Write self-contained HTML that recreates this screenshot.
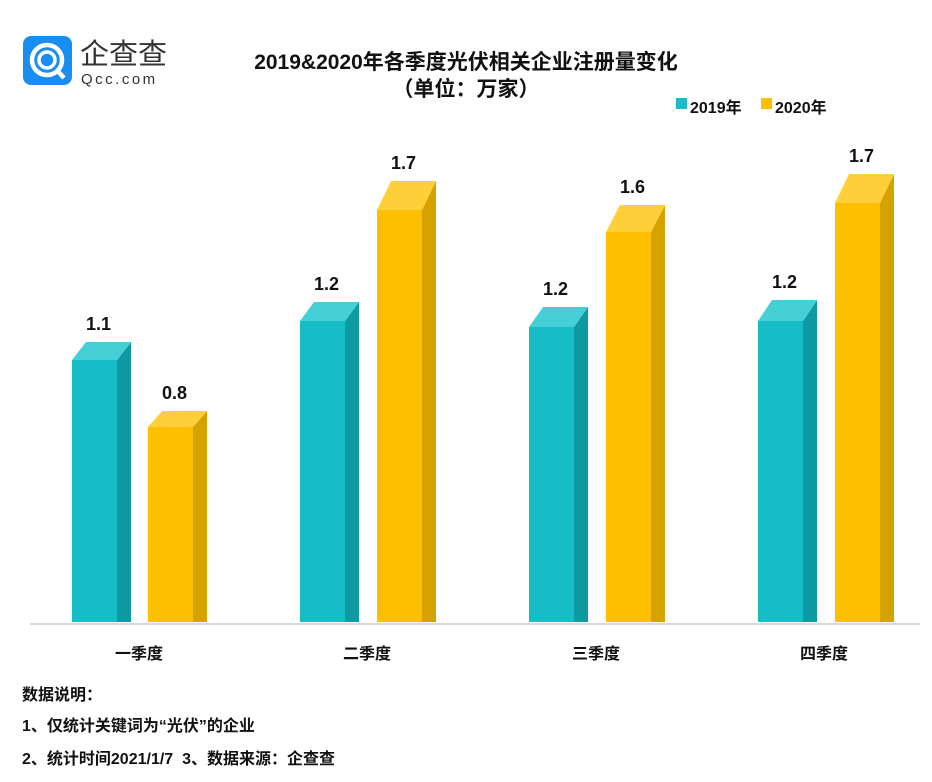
<!DOCTYPE html><html><head><meta charset="utf-8"><style>
body{margin:0;width:932px;height:782px;background:#fff;font-family:"Liberation Sans","Noto Sans CJK SC",sans-serif;overflow:hidden;position:relative}
.t{position:absolute;font-weight:bold;color:#111}
</style></head><body>
<svg width="932" height="782" style="position:absolute;left:0;top:0">
<rect x="23" y="36" width="49" height="49" rx="8" fill="#1a8ef0"/>
<circle cx="47" cy="60" r="15" fill="none" stroke="#fff" stroke-width="4.5"/>
<circle cx="47" cy="60" r="8" fill="none" stroke="#fff" stroke-width="3.5"/>
<line x1="56" y1="69" x2="64" y2="78" stroke="#fff" stroke-width="4.5"/>
<text x="80" y="64" font-size="29" fill="#333" font-family="Noto Sans CJK SC,sans-serif">企查查</text>
<text x="81" y="84" font-size="15" fill="#333" letter-spacing="2.5" font-family="Liberation Sans,sans-serif">Qcc.com</text>
<line x1="30" y1="624" x2="920" y2="624" stroke="#ccc" stroke-width="1.5"/>
<g id="bars"></g>
<rect x="676" y="98" width="11" height="11" fill="#16bcc6"/>
<rect x="761" y="98" width="11" height="11" fill="#fcc000"/>
</svg>
<div class="t" style="left:0;width:932px;top:46px;text-align:center;font-size:21px">2019&amp;2020年各季度光伏相关企业注册量变化</div>
<div class="t" style="left:0;width:932px;top:73px;text-align:center;font-size:21px">（单位：万家）</div>
<div class="t" style="left:690px;top:94px;font-size:16px">2019年</div>
<div class="t" style="left:775px;top:94px;font-size:16px">2020年</div>
<div class="t" style="left:115px;top:640px;font-size:16px">一季度</div>
<div class="t" style="left:343px;top:640px;font-size:16px">二季度</div>
<div class="t" style="left:572px;top:640px;font-size:16px">三季度</div>
<div class="t" style="left:800px;top:640px;font-size:16px">四季度</div>
<div class="t" style="left:22px;top:681px;font-size:16px">数据说明：</div>
<div class="t" style="left:22px;top:712px;font-size:16px">1、仅统计关键词为“光伏”的企业</div>
<div class="t" style="left:22px;top:745px;font-size:16px">2、统计时间2021/1/7&nbsp;&nbsp;3、数据来源：企查查</div>
<script>
var B=[[72,360,18,'1.1',0],[148,427,16,'0.8',1],[300,321,19,'1.2',0],[377,210,29,'1.7',1],[529,327,20,'1.2',0],[606,232,27,'1.6',1],[758,321,21,'1.2',0],[835,203,29,'1.7',1]];
var C=[['#16bcc6','#0e9aa3','#45d0d8'],['#fcc000','#d6a200','#ffcf3a']];
var s='',w=45,dx=14,b=622;
B.forEach(function(d){var x=d[0],y=d[1],dy=d[2],c=C[d[4]];
s+='<rect x="'+x+'" y="'+y+'" width="'+w+'" height="'+(b-y)+'" fill="'+c[0]+'"/>';
s+='<polygon points="'+(x+w)+','+y+' '+(x+w+dx)+','+(y-dy)+' '+(x+w+dx)+','+b+' '+(x+w)+','+b+'" fill="'+c[1]+'"/>';
s+='<polygon points="'+x+','+y+' '+(x+dx)+','+(y-dy)+' '+(x+w+dx)+','+(y-dy)+' '+(x+w)+','+y+'" fill="'+c[2]+'"/>';
s+='<text x="'+(x+w/2+4)+'" y="'+(y-dy-12)+'" text-anchor="middle" font-size="18" font-weight="bold" fill="#111" font-family="Liberation Sans,sans-serif">'+d[3]+'</text>';});
document.getElementById('bars').innerHTML=s;
</script>
</body></html>
